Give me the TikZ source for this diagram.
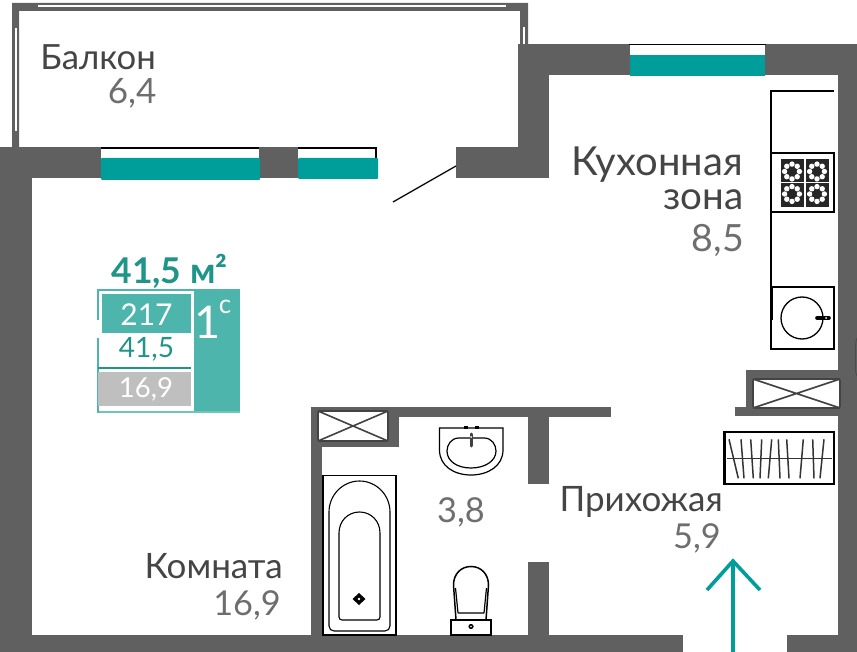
\documentclass[tikz,border=0pt]{standalone}
\usepackage{fontspec}
\setmainfont{Lato}
\definecolor{wall}{HTML}{606060}
\definecolor{teal1}{HTML}{009E9A}
\definecolor{cardteal}{HTML}{4DB5AB}
\definecolor{cardtext}{HTML}{1F9488}
\definecolor{lab}{HTML}{454545}
\definecolor{num}{HTML}{6E6E6E}
\tikzset{
  wallfill/.style={fill=wall,draw=none},
  glass/.style={fill=teal1,draw=none,rounded corners=1pt},
  fixture/.style={draw=black,line width=1.3pt,fill=white},
  plain/.style={draw=black,line width=1.2pt},
  vent/.style={draw=wall!70!black,line width=1.6pt,fill=white,rounded corners=2pt},
  lbl/.style={anchor=base east,inner sep=0pt,font=\fontsize{34.7}{34.7}\selectfont,text=lab},
  val/.style={anchor=base east,inner sep=0pt,font=\fontsize{34.3}{34.3}\selectfont,text=num},
  cardnum/.style={anchor=base,inner sep=0pt}
}
\begin{document}
\begin{tikzpicture}[x=1pt,y=-1pt]
\useasboundingbox (0,0) rectangle (857,652);
\fill[white] (0,0) rectangle (857,652);
\clip (0,0) rectangle (857,652);
% balcony thin wall
\fill[wall] (12,147) -- (12,3) -- (528,3) -- (528,44) -- (520,44) -- (520,11) -- (19,11) -- (19,147) -- cycle;
\fill[white] (38,5.5) rectangle (506,7.5);
\fill[white] (14.5,28) rectangle (16.5,131);
\fill[white] (523,27) rectangle (525,44);
% main walls
\fill[wallfill] (0,147) rectangle (456,178);
\fill[wallfill] (0,147) rectangle (32,652);
\fill[wallfill] (0,635) rectangle (683,652);
\fill[wallfill] (787,635) rectangle (857,652);
\fill[wallfill] (838,44) rectangle (857,652);
\fill[wallfill] (518,44) rectangle (857,75);
\fill[wallfill] (518,44) rectangle (549,178);
\fill[wallfill] (456,147) rectangle (549,178);
% opening between windows and the door
\fill[white] (378,147) rectangle (456,178);
% windows
\fill[white] (101,147) rectangle (259,160);
\fill[white] (298,147) rectangle (378,160);
\fill[white] (630,44) rectangle (765,57);
\draw[plain] (101,148) -- (259,148);
\draw[plain] (298,148) -- (376,148) -- (376,158);
\draw[plain] (629,44.5) -- (766,44.5);
\fill[glass] (101,158) rectangle (260,180);
\fill[glass] (298,158) rectangle (378,179);
\fill[teal1] (630,55) rectangle (765,76);
% door leaf
\draw[line width=1.3pt] (393,202) -- (456,166);
% bathroom walls
\fill[wallfill] (311,407) rectangle (611,417);
\fill[wallfill] (311,407) rectangle (322,640);
\fill[wallfill] (311,407) rectangle (399,447);
\fill[wallfill] (528,407) rectangle (549,484);
\fill[wallfill] (528,562) rectangle (549,640);
% right shaft
\fill[wallfill] (746,370) rectangle (840,416);
\fill[wallfill] (735,407) rectangle (746,416);
% small mark on the right edge
\draw[black!70,line width=0.8pt] (857,338) .. controls (855.5,342) and (855.5,345) .. (855.5,350) -- (855.5,368) .. controls (855.5,372) and (856,374) .. (857,376);
% vents
\draw[vent] (318,411) rectangle (388,441);
\draw[wall!70!black,line width=1.6pt] (318,411) -- (388,441) (388,411) -- (318,441);
\draw[vent] (753,379) rectangle (840,408);
\draw[wall!70!black,line width=1.6pt] (753,379) -- (840,408) (840,379) -- (753,408);
% kitchen
\draw[plain] (834,91) -- (771,91) -- (771,287);
\draw[fixture] (771,153) rectangle (834,212);
\fill[black!85] (781,159) rectangle (829,207);
\foreach \cx/\cy in {792/171.5,817/171.5,792/194,817/194}{
  \foreach \a in {0,45,...,315}{
    \fill[white] (\cx,\cy) ++({\a}:7.4) circle[radius=2.7];
  }
}
\draw[white,line width=1.4pt] (805,159) -- (805,207) (781,182.5) -- (829,182.5);
\draw[fixture] (771,287) rectangle (834,349);
\draw[line width=2.6pt] (771.5,287) -- (771.5,320) (834,287) -- (834,349);
\draw[black,line width=1.3pt] (802,318) circle[radius=21];
\draw[black,line width=3.6pt,line cap=round] (817,318) -- (829,318);
\fill[white] (826,318) circle[radius=1];
% wardrobe
\draw[black,line width=2.4pt] (724.5,432) rectangle (834,484);
\draw[black!80,line width=1.1pt] (727,458.3) -- (832,458.3);
\foreach \a/\b in {729/738.3,741/744,750.7/753.3,761.7/760,771.7/768.3,778.3/780,786.7/789,803.3/800,812.7/814,824/820}{
  \draw[black!80,line width=1.5pt] (\a,439.3) -- (\b,478.3);
}
% bath
\draw[fixture,line width=1.2pt] (323,475.5) rectangle (396,635);
\draw[black,line width=1.1pt,rounded corners=5pt] (329,625) -- (329,631) -- (390,631) -- (390,512);
\draw[black,line width=1.1pt] (329,625) -- (329,512) .. controls (329,495) and (342.7,481) .. (359.5,481) .. controls (376.3,481) and (390,495) .. (390,512);
\draw[black,line width=1.1pt,rounded corners=3pt] (339,533) -- (339,620) -- (380,620) -- (380,533);
\draw[black,line width=1.1pt] (339,533) .. controls (339,521) and (348,512) .. (359.5,512) .. controls (371,512) and (380,521) .. (380,533);
\fill[black] (359,593) -- (365.5,599) -- (359,605) -- (352.5,599) -- cycle;
\fill[white] (359,599) circle[radius=1.4];
% wash basin
\draw[black,line width=1.2pt] (439.5,428) -- (503,428) -- (503,450) .. controls (503,466) and (488,475) .. (471,475) .. controls (454,475) and (439.5,466) .. (439.5,450) -- cycle;
\draw[black,line width=1.2pt] (459,438) -- (484,438) .. controls (492,438) and (496,445) .. (496,451) .. controls (496,461) and (485,468) .. (471,468) .. controls (457,468) and (447,461) .. (447,451) .. controls (447,445) and (451,438) .. (459,438) -- cycle;
\fill[black] (464,426) rectangle (468,429);
\fill[black] (475,426) rectangle (479,429);
\draw[black!75,line width=3pt,line cap=round] (471,434) -- (471,446);
\fill[white] (471,437) circle[radius=1];
% toilet
\draw[black,line width=1.5pt] (456,620) -- (453.5,585) .. controls (453.5,574) and (461,566.5) .. (471,566.5) .. controls (481,566.5) and (488.5,574) .. (488.5,585) -- (486,620);
\draw[black,line width=1.2pt] (458,613) -- (455.5,588) (484,613) -- (486.5,588) (458,613) -- (484,613);
\draw[black,line width=1.4pt,fill=white] (451,635) -- (451,620) -- (491,620) -- (491,635) -- cycle;
\fill[black] (471,626.5) circle[radius=2.6];
\fill[white] (471,626.5) circle[radius=0.8];
% entrance arrow
\draw[teal1,line width=3.6pt] (733,652) -- (733,562);
\draw[teal1,line width=3.6pt,line join=miter] (707,590) -- (733,561) -- (760,590);
% info card
\fill[white] (97,289) rectangle (240,413);
\fill[cardteal] (194,289) rectangle (240,413);
\fill[cardteal] (97,289) rectangle (240,291);
\fill[cardteal!80] (97,410.5) rectangle (240,413);
\fill[cardteal] (97,289) rectangle (99,320);
\fill[cardteal] (97,338) rectangle (99,413);
\fill[cardteal] (102,294) rectangle (191,333);
\fill[cardtext] (98,367) rectangle (191,369);
\fill[black!25] (98,372) rectangle (191,406);
\node[anchor=base,inner sep=0pt,font=\bfseries\fontsize{35.5}{35.5}\selectfont,text=cardtext] (total) at (169.5,284) {41,5 м²};
\node[cardnum,font=\fontsize{30}{30}\selectfont,text=white] (num217) at (146.5,326) {217};
\node[cardnum,font=\fontsize{28}{28}\selectfont,text=cardtext] (areaA) at (146.5,358) {41,5};
\node[cardnum,font=\fontsize{27.5}{27.5}\selectfont,text=white] (areaB) at (146,397) {16,9};
\node[anchor=base,inner sep=0pt,font=\fontsize{45}{45}\selectfont,text=white] (typeA) at (207.5,339) {1};
\node[anchor=base,inner sep=0pt,font=\fontsize{26}{26}\selectfont,text=white] (typeB) at (225,314) {c};
% labels
\node[lbl] (balcony) at (156,70) {Балкон};
\node[val,font=\fontsize{35}{35}\selectfont] (balconyv) at (156.5,104) {6,4};
\node[lbl,font=\fontsize{40}{40}\selectfont] (kitchena) at (743,176) {Кухонная};
\node[lbl,font=\fontsize{38.5}{38.5}\selectfont] (kitchenb) at (743.5,210) {зона};
\node[val,font=\fontsize{37.5}{37.5}\selectfont] (kitchenv) at (744,252) {8,5};
\node[lbl,font=\fontsize{35}{35}\selectfont] (room) at (283,578) {Комната};
\node[val] (roomv) at (281,615) {16,9};
\node[lbl,font=\fontsize{35}{35}\selectfont] (hall) at (723,511) {Прихожая};
\node[val] (hallv) at (721,548) {5,9};
\node[val] (bathv) at (485,522) {3,8};
\end{tikzpicture}
\end{document}
